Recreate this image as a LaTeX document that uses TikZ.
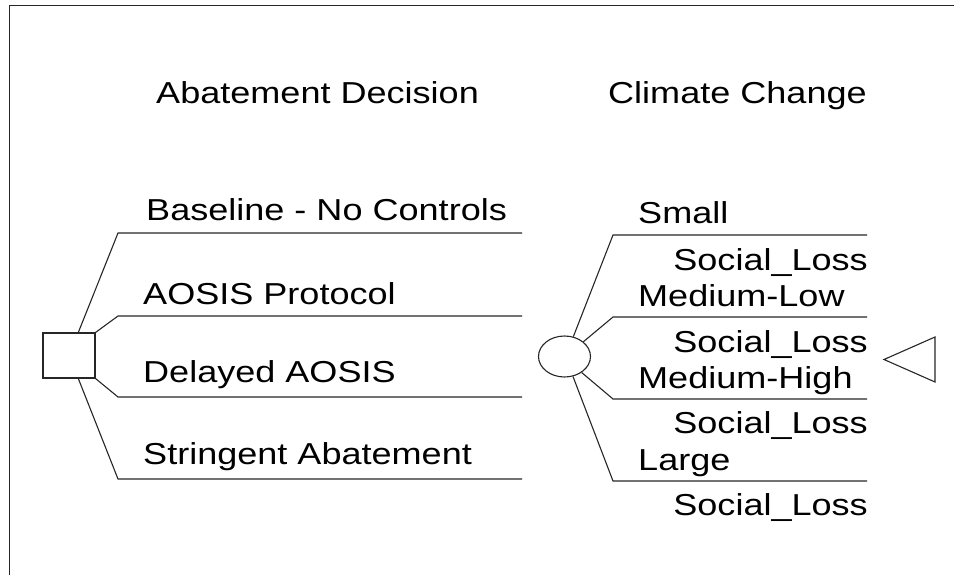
\documentclass[tikz,border=0pt]{standalone}
\usepackage{fontspec}
\setmainfont{Liberation Sans}[FakeStretch=1.19]
\usetikzlibrary{shapes.geometric}
\begin{document}
\begin{tikzpicture}[x=1pt,y=-1pt,
  every node/.style={font=\fontsize{30.3}{36}\selectfont},
  edge/.style={line width=1.1pt, draw=black!85},
  lbl/.style={inner sep=0pt, anchor=base west},
  val/.style={inner sep=0pt, anchor=base east},
  decision/.style={edge, rectangle, minimum width=52pt, minimum height=45pt, inner sep=0pt},
  chance/.style={edge, ellipse, minimum width=52pt, minimum height=41pt, inner sep=0pt},
]
\useasboundingbox (0,0) rectangle (954,575);

% outer frame (left and top edges)
\draw[edge] (9.5,575) -- (9.5,5.5) -- (954,5.5);

% column headings
\node[lbl] (hdec) at (156,104) {Abatement Decision};
\node[lbl] (hcha) at (608,104) {Climate Change};

% decision node and its branches
\node[decision] (dec) at (69,355.5) {};
\coordinate (d1a) at (118,233);  \coordinate (d1b) at (522,233);
\coordinate (d2a) at (118,316);  \coordinate (d2b) at (522,316);
\coordinate (d3a) at (118,397);  \coordinate (d3b) at (522,397);
\coordinate (d4a) at (118,479);  \coordinate (d4b) at (522,479);
\draw[edge] (dec.68) -- (d1a) -- (d1b);
\draw[edge] (dec.north east) -- (d2a) -- (d2b);
\draw[edge] (dec.south east) -- (d3a) -- (d3b);
\draw[edge] (dec.-68) -- (d4a) -- (d4b);

\node[lbl] (o1) at (146,221) {Baseline - No Controls};
\node[lbl] (o2) at (143,304) {AOSIS Protocol};
\node[lbl] (o3) at (143,382) {Delayed AOSIS};
\node[lbl] (o4) at (143,464) {Stringent Abatement};

% chance node and its branches
\node[chance] (cha) at (564.5,356.5) {};
\coordinate (c1a) at (613,235);  \coordinate (c1b) at (867,235);
\coordinate (c2a) at (613,317);  \coordinate (c2b) at (867,317);
\coordinate (c3a) at (613,399);  \coordinate (c3b) at (867,399);
\coordinate (c4a) at (613,481);  \coordinate (c4b) at (867,481);
\draw[edge] (cha.66) -- (c1a) -- (c1b);
\draw[edge] (cha.38) -- (c2a) -- (c2b);
\draw[edge] (cha.-43) -- (c3a) -- (c3b);
\draw[edge] (cha.-67) -- (c4a) -- (c4b);

\node[lbl] (s1) at (638,223) {Small};
\node[lbl] (s2) at (638,306) {Medium-Low};
\node[lbl] (s3) at (638,388) {Medium-High};
\node[lbl] (s4) at (638,470) {Large};
\node[val] (v1) at (868,270) {Social\_Loss};
\node[val] (v2) at (868,352) {Social\_Loss};
\node[val] (v3) at (868,433) {Social\_Loss};
\node[val] (v4) at (868,515) {Social\_Loss};

% terminal node
\coordinate (term) at (935,359.5);
\draw[edge, line join=miter] (term) ++(0,-22.5) -- (884,359.5) -- (935,382) -- cycle;
\end{tikzpicture}
\end{document}
